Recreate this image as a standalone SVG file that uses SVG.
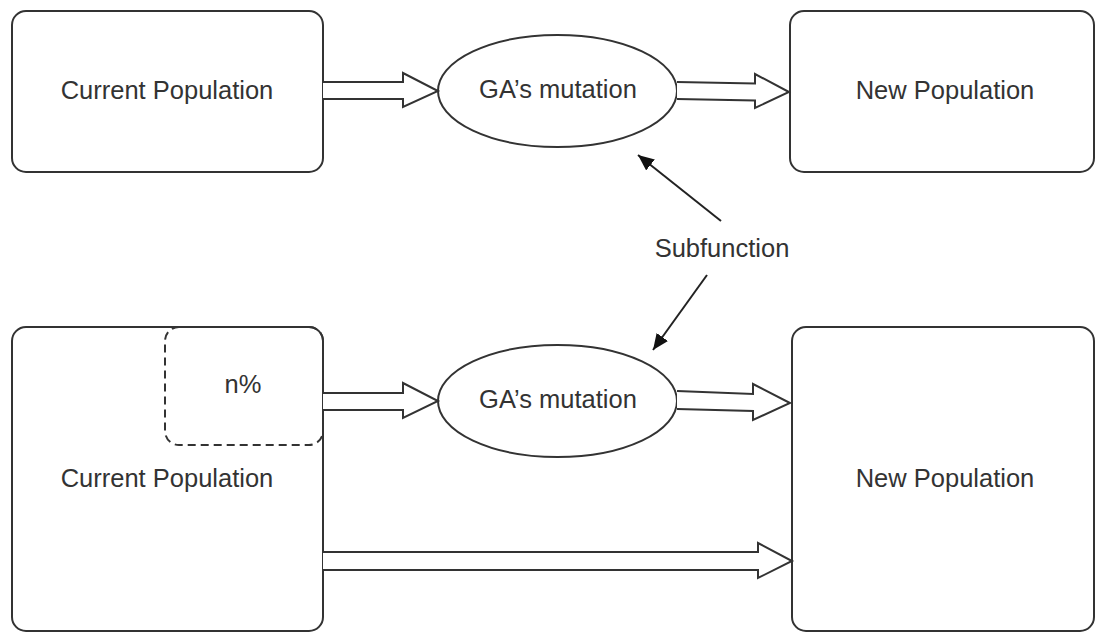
<svg xmlns="http://www.w3.org/2000/svg" width="1096" height="633" viewBox="0 0 1096 633">
  <style>
    .box { fill: #ffffff; stroke: #333333; stroke-width: 2; }
    .dash { fill: none; stroke: #333333; stroke-width: 2; stroke-dasharray: 8 5; }
    .flow { fill: #ffffff; stroke: #333333; stroke-width: 2; stroke-linejoin: miter; }
    .link { fill: none; stroke: #222222; stroke-width: 2; }
    .label { font-family: "Liberation Sans", Arial, sans-serif; font-size: 25.5px; fill: #333333; text-anchor: middle; }
  </style>
  <defs>
    <marker id="solidHead" markerWidth="16" markerHeight="14" refX="10" refY="5" orient="auto" markerUnits="userSpaceOnUse" viewBox="0 0 10 10" preserveAspectRatio="none">
      <path d="M0,0 L10,5 L0,10 z" fill="#111111"/>
    </marker>
  </defs>

  <rect width="1096" height="633" fill="#ffffff"/>

  <!-- upper row -->
  <g id="current-top">
    <rect class="box" x="12" y="11" width="311" height="161" rx="14"/>
    <text class="label" x="167" y="99">Current Population</text>
  </g>
  <g id="mutation-top">
    <ellipse class="box" cx="557.5" cy="91" rx="119.5" ry="56"/>
    <text class="label" x="558" y="98">GA’s mutation</text>
  </g>
  <g id="new-top">
    <rect class="box" x="790" y="11" width="304" height="161" rx="14"/>
    <text class="label" x="945" y="99">New Population</text>
  </g>

  <!-- lower row -->
  <g id="current-bottom">
    <rect class="box" x="12" y="327" width="311" height="304" rx="14"/>
    <text class="label" x="167" y="487">Current Population</text>
  </g>
  <g id="subset">
    <rect class="dash" x="165" y="327" width="158" height="118" rx="14"/>
    <text class="label" x="243" y="393">n%</text>
  </g>
  <g id="mutation-bottom">
    <ellipse class="box" cx="557.5" cy="401" rx="119.5" ry="56"/>
    <text class="label" x="558" y="408">GA’s mutation</text>
  </g>
  <g id="new-bottom">
    <rect class="box" x="792" y="327" width="302" height="304" rx="14"/>
    <text class="label" x="945" y="487">New Population</text>
  </g>

  <g id="subfunction">
    <text class="label" x="722" y="257">Subfunction</text>
  </g>

  <!-- connectors -->
  <g id="connectors">
    <!-- block arrows -->
    <path class="flow" d="M323,82 L403,82 L403,73 L438,91 L403,107 L403,99 L323,99"/>
    <path class="flow" d="M677,82 L755,83.5 L755,74 L789,92 L755,108 L755,100.5 L677,99"/>
    <path class="flow" d="M323,393 L403,393 L403,383 L438,401 L403,418 L403,410 L323,410"/>
    <path class="flow" d="M677,391 L753,394 L753,384 L790,403 L753,420 L753,411 L677,409"/>
    <path class="flow" d="M323,552 L758,552 L758,543 L792,561 L758,578 L758,570 L323,570"/>
    <!-- subfunction pointers -->
    <line class="link" x1="721" y1="221" x2="638" y2="155" marker-end="url(#solidHead)"/>
    <line class="link" x1="707" y1="275" x2="653" y2="350" marker-end="url(#solidHead)"/>
  </g>
</svg>
